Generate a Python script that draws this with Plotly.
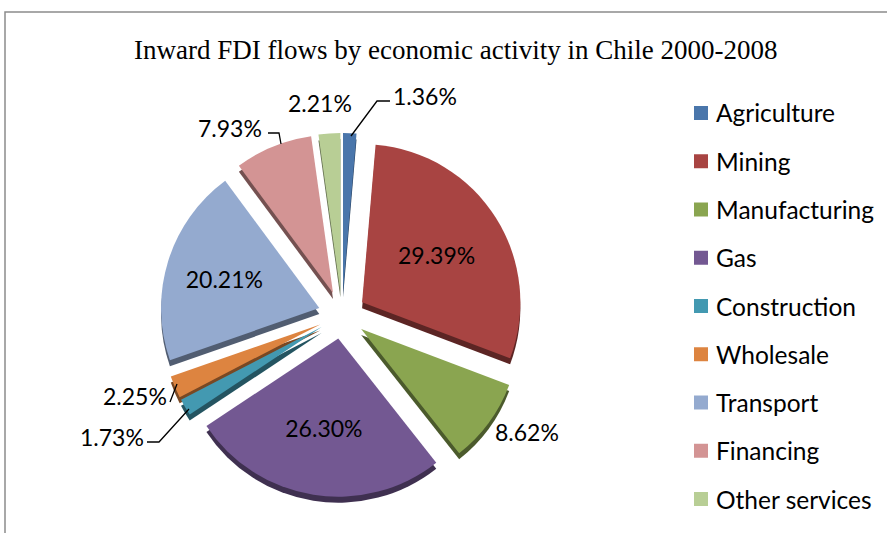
import plotly.graph_objects as go

# Inward FDI into Chile, 2000-2008, share by economic activity (%)
sectors = ["Agriculture", "Mining", "Manufacturing", "Gas", "Construction",
           "Wholesale", "Transport", "Financing", "Other services"]
shares = [1.36, 29.39, 8.62, 26.30, 1.73, 2.25, 20.21, 7.93, 2.21]
colors = ["#4A76AB", "#A84442", "#8AA550", "#735892", "#4399B1",
          "#DD8440", "#94AACF", "#D39494", "#B8CE95"]
pulls = [0.15, 0.15, 0.15, 0.15, 0.15, 0.15, 0.15, 0.15, 0.15]
inside = {"Mining", "Gas", "Transport"}

W, H = 887, 533
FONT = "Lato"


def px(x, y):
    """pixel position -> paper coordinates"""
    return x / W, 1 - y / H


def shade(hexcol, f):
    r, g, b = (int(hexcol[i:i + 2], 16) for i in (1, 3, 5))
    return "#%02x%02x%02x" % (int(r * f), int(g * f), int(b * f))


# pie box (pixels)
cx, cy, half = 342, 315, 182
depth = 6
dom_x = [(cx - half) / W, (cx + half) / W]
dom_y = [1 - (cy + half) / H, 1 - (cy - half) / H]
dom_y_side = [dom_y[0] - depth / H, dom_y[1] - depth / H]

labels_text = [f"{v:.2f}%" for v in shares]

fig = go.Figure()

# side wall of the tilted pie
fig.add_trace(go.Pie(
    labels=sectors, values=shares, sort=False, direction="clockwise",
    rotation=0, pull=pulls, domain=dict(x=dom_x, y=dom_y_side),
    marker=dict(colors=[shade(c, 0.55) for c in colors], line=dict(width=0)),
    textinfo="none", hoverinfo="skip", showlegend=False,
))

# top face
fig.add_trace(go.Pie(
    labels=sectors, values=shares, sort=False, direction="clockwise",
    rotation=0, pull=pulls, domain=dict(x=dom_x, y=dom_y),
    marker=dict(colors=colors, line=dict(width=0)),
    text=[t if s in inside else "" for s, t in zip(sectors, labels_text)],
    textinfo="text", textposition="inside",
    insidetextorientation="horizontal",
    insidetextfont=dict(family=FONT, size=23, color="black"),
    showlegend=False,
))

# outside value labels with leader lines
outside_pos = {
    "Agriculture": (425, 96),
    "Other services": (320, 103),
    "Financing": (230, 128),
    "Manufacturing": (527, 432),
    "Wholesale": (135, 396),
    "Construction": (112, 437),
}
annotations = []
for name, (x, y) in outside_pos.items():
    i = sectors.index(name)
    ax, ay = px(x, y)
    annotations.append(dict(x=ax, y=ay, xref="paper", yref="paper",
                            xanchor="center", yanchor="middle",
                            text=labels_text[i], showarrow=False,
                            font=dict(family=FONT, size=23, color="black")))

leaders = [
    [(390, 101), (377, 101), (351, 136)],
    [(268, 133), (279, 133), (281, 144)],
    [(170, 402), (177, 384)],
    [(147, 442), (159, 442), (189, 409)],
]
shapes = []
for pts in leaders:
    path = ""
    for k, (x, y) in enumerate(pts):
        X, Y = px(x, y)
        path += ("M" if k == 0 else " L") + f"{X:.5f},{Y:.5f}"
    shapes.append(dict(type="path", xref="paper", yref="paper", path=path,
                       line=dict(color="black", width=1.3)))

# chart frame
fx0, fy0 = px(5, 12)
shapes.append(dict(type="rect", xref="paper", yref="paper",
                   x0=fx0, y0=-0.2, x1=1.2, y1=fy0,
                   line=dict(color="#8c8c8c", width=1.5)))

# legend
leg_x, leg_y0, leg_step, sq = 694, 113, 48.25, 14
for i, (name, col) in enumerate(zip(sectors, colors)):
    yc = leg_y0 + i * leg_step
    x0, y0 = px(leg_x, yc - sq / 2)
    x1, y1 = px(leg_x + sq, yc + sq / 2)
    shapes.append(dict(type="rect", xref="paper", yref="paper",
                       x0=x0, y0=y1, x1=x1, y1=y0,
                       fillcolor=col, line=dict(width=0)))
    tx, ty = px(leg_x + 20, yc)
    annotations.append(dict(x=tx, y=ty, xref="paper", yref="paper",
                            text=name, showarrow=False,
                            xanchor="left", yanchor="middle",
                            font=dict(family=FONT, size=24.5, color="black")))

# title
tx, ty = px(456, 50)
annotations.append(dict(x=tx, y=ty, xref="paper", yref="paper",
                        xanchor="center", yanchor="middle",
                        text="Inward FDI flows by economic activity in Chile 2000-2008",
                        showarrow=False,
                        font=dict(family="Liberation Serif", size=27, color="black")))

fig.update_layout(
    width=W, height=H,
    margin=dict(l=0, r=0, t=0, b=0),
    paper_bgcolor="white", plot_bgcolor="white",
    shapes=shapes, annotations=annotations,
    showlegend=False,
)

fig.write_html("out.html")
